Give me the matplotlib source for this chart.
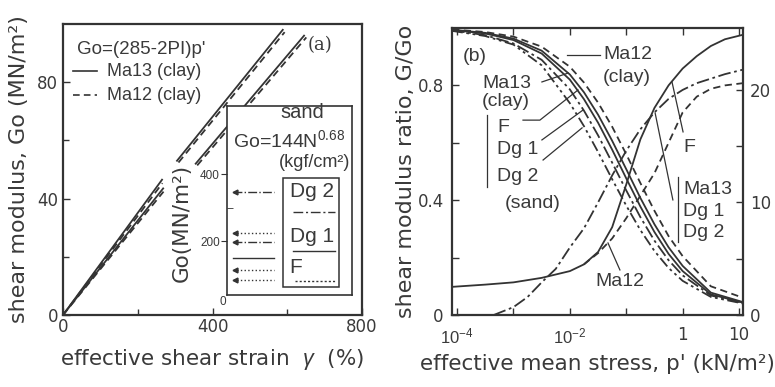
import numpy as np
import matplotlib
matplotlib.use('Agg')
import matplotlib.pyplot as plt
from matplotlib.patches import Rectangle

plt.rcParams['font.family'] = ['Liberation Sans', 'DejaVu Sans']
plt.rcParams['mathtext.fontset'] = 'custom'
plt.rcParams['mathtext.rm'] = 'Liberation Sans'
plt.rcParams['mathtext.it'] = 'Liberation Sans:italic'

INK = '#333333'
TXT = '#3a3a3a'
WIDE = ['DejaVu Sans']
nan = np.nan

# ---------------- panel (a) data ----------------
a_solid1_x = [0, 265, nan, 305, 588]
a_solid1_y = [0, 46.5, nan, 53, 98]
a_dash1_x = [0, 266, nan, 309, 593]
a_dash1_y = [0, 45.3, nan, 52.4, 97.2]
a_solid2_x = [0, 268, nan, 355, 645]
a_solid2_y = [0, 43.5, nan, 52, 96]
a_dash2_x = [0, 269, nan, 359, 651]
a_dash2_y = [0, 42.4, nan, 51.4, 95.4]

sand_go_levels = [346, 224, 197, 149, 113, 84]
sand_styles = ['dashdot', 'dotted', 'dashdot', 'solid', 'dotted', 'dotted']
sand_arrow = [True, True, True, False, True, True]

# ---------------- panel (b) data ----------------
lx_g = [-4.09, -3.5, -3.0, -2.5, -2.0, -1.75, -1.5, -1.25, -1.0, -0.75, -0.5, -0.25, 0.0, 0.5, 1.07]
g_ma12 = [0.995, 0.986, 0.970, 0.935, 0.865, 0.810, 0.740, 0.656, 0.560, 0.460, 0.363, 0.275, 0.205, 0.100, 0.060]
g_ma13 = [0.994, 0.983, 0.963, 0.921, 0.838, 0.776, 0.698, 0.607, 0.508, 0.408, 0.316, 0.236, 0.171, 0.078, 0.045]
g_f    = [0.993, 0.981, 0.958, 0.911, 0.820, 0.752, 0.670, 0.576, 0.476, 0.378, 0.289, 0.213, 0.153, 0.072, 0.043]
g_dg1  = [0.992, 0.975, 0.946, 0.889, 0.786, 0.712, 0.626, 0.531, 0.434, 0.341, 0.259, 0.191, 0.138, 0.068, 0.042]
g_dg2  = [0.990, 0.972, 0.942, 0.870, 0.738, 0.658, 0.568, 0.473, 0.381, 0.296, 0.223, 0.164, 0.119, 0.063, 0.040]

lx_h = [-4.09, -3.5, -3.0, -2.5, -2.0, -1.75, -1.5, -1.25, -1.0, -0.75, -0.5, -0.25, 0.0, 0.25, 0.5, 0.75, 1.07]
h_f = [2.5, 2.7, 2.9, 3.3, 3.9, 4.5, 5.6, 7.8, 11.6, 15.6, 18.4, 20.4, 21.9, 23.0, 23.9, 24.5, 24.9]
lx_h_dg = [-3.35, -3.0, -2.75, -2.5, -2.25, -2.0, -1.75, -1.5, -1.25, -1.0, -0.75, -0.5, -0.25, 0.0, 0.25, 0.5, 0.75, 1.07]
h_dg = [0.0, 0.7, 1.6, 2.9, 4.1, 6.0, 7.7, 10.0, 12.4, 14.6, 16.5, 18.0, 19.2, 20.0, 20.6, 21.0, 21.4, 21.8]
lx_h_ma12 = [-1.75, -1.5, -1.25, -1.0, -0.75, -0.5, -0.25, 0.0, 0.25, 0.5, 0.75, 1.07]
h_ma12 = [4.5, 5.5, 6.8, 8.6, 10.6, 12.6, 15.3, 18.0, 19.4, 20.1, 20.4, 20.6]

DASH = (0, (4, 2.5))
DASHDOT = (0, (7, 2, 1.5, 2))
DASHDOT2 = (0, (6, 2, 1.5, 2, 1.5, 2))
DOT = (0, (1.5, 1.5))

fig = plt.figure(figsize=(7.75, 3.87), dpi=100)
fig.patch.set_facecolor('white')

# ======================= panel (a) =======================
axa = fig.add_axes([63/775, 72/387, 299/775, 291/387])
lw = 1.3
axa.plot(a_solid1_x, a_solid1_y, color=INK, lw=lw)
axa.plot(a_dash1_x, a_dash1_y, color=INK, lw=lw, ls=DASH)
axa.plot(a_solid2_x, a_solid2_y, color=INK, lw=lw)
axa.plot(a_dash2_x, a_dash2_y, color=INK, lw=lw, ls=DASH)
axa.set_xlim(0, 800)
axa.set_ylim(0, 100)
axa.set_xticks([0, 400, 800])
axa.set_xticks([200, 600], minor=True)
axa.set_yticks([0, 40, 80])
axa.set_yticks([20, 60], minor=True)
axa.tick_params(which='both', direction='in', colors=INK, labelcolor=TXT, labelsize=12, width=1.0)
axa.tick_params(which='major', length=5)
axa.tick_params(which='minor', length=4)
axa.tick_params(axis='x', pad=2)
for lab in axa.get_xticklabels() + axa.get_yticklabels():
    lab.set_family(WIDE)
for s in axa.spines.values():
    s.set_linewidth(1.6)
    s.set_color(INK)
axa.set_xlabel('effective shear strain  $\\gamma$  (%)', fontsize=15.5, color=TXT, labelpad=8, family=WIDE)
axa.set_ylabel('shear modulus, Go (MN/m²)', fontsize=16, color=TXT, labelpad=6, family=WIDE)

axa.text(0.047, 0.911, "Go=(285-2PI)p'", transform=axa.transAxes, fontsize=13.5, color=TXT, va='center')
axa.plot([0.033, 0.114], [0.838, 0.838], transform=axa.transAxes, color=INK, lw=1.2)
axa.text(0.147, 0.838, 'Ma13 (clay)', transform=axa.transAxes, fontsize=13, color=TXT, va='center')
axa.plot([0.033, 0.114], [0.756, 0.756], transform=axa.transAxes, color=INK, lw=1.2, ls=DASH)
axa.text(0.147, 0.756, 'Ma12 (clay)', transform=axa.transAxes, fontsize=13, color=TXT, va='center')
axa.text(0.86, 0.928, '(a)', transform=axa.transAxes, fontsize=13, color=TXT, va='center', ha='center',
         family='DejaVu Serif')

# inset
axi = fig.add_axes([227/775, 92/387, 125/775, 189/387])
axi.set_xlim(0, 1)
axi.set_ylim(39, 603)
axi.set_xticks([])
axi.set_yticks([200, 400])
axi.set_yticks([300], minor=True)
axi.tick_params(which='major', direction='out', length=4, colors=INK, labelcolor=TXT, labelsize=8.5, pad=1)
axi.tick_params(which='minor', direction='in', length=4, colors=INK)
for s in axi.spines.values():
    s.set_linewidth(1.2)
    s.set_color(INK)
axi.text(-0.03, 18, '0', fontsize=8.5, color=TXT, ha='center', va='center', clip_on=False)
for lev, st, arr in zip(sand_go_levels, sand_styles, sand_arrow):
    axi.plot([0.05, 0.376], [lev, lev], color=INK, lw=1.0, ls=st)
    if arr:
        axi.plot([0.06], [lev], marker='<', ms=3.5, color=INK, mec=INK)
axi.text(0.6, 0.963, 'sand', transform=axi.transAxes, fontsize=14.5, color=TXT, ha='center', va='center')
axi.text(0.5, 0.82, 'Go=144N$^{0.68}$', transform=axi.transAxes, fontsize=14, color=TXT, ha='center', va='center')
axi.text(0.99, 0.70, '(kgf/cm²)', transform=axi.transAxes, fontsize=13, color=TXT, ha='right', va='center')
axi.add_patch(Rectangle((0.448, 0.042), 0.448, 0.577, transform=axi.transAxes, fill=False, ec=INK, lw=1.1))
axi.text(0.68, 0.545, 'Dg 2', transform=axi.transAxes, fontsize=15, color=TXT, ha='center', va='center')
axi.plot([0.53, 0.864], [0.44, 0.44], transform=axi.transAxes, color=INK, lw=1.0, ls=DASHDOT)
axi.text(0.68, 0.307, 'Dg 1', transform=axi.transAxes, fontsize=15, color=TXT, ha='center', va='center')
axi.plot([0.53, 0.864], [0.233, 0.233], transform=axi.transAxes, color=INK, lw=1.0)
axi.text(0.5, 0.143, 'F', transform=axi.transAxes, fontsize=15, color=TXT, ha='left', va='center')
axi.plot([0.544, 0.864], [0.074, 0.074], transform=axi.transAxes, color=INK, lw=1.0, ls=DOT)
fig.text(182/775, (387-223)/387, 'Go(MN/m²)', rotation=90, fontsize=15.5, color=TXT, ha='center', va='center',
         family=WIDE)

# ======================= panel (b) =======================
axb = fig.add_axes([452/775, 72/387, 291/775, 287/387])
axb.set_xscale('log')
xg = [10**v for v in lx_g]
axb.plot(xg, g_ma12, color=INK, lw=lw, ls=DASH)
axb.plot(xg, g_ma13, color=INK, lw=lw)
axb.plot(xg, g_f, color=INK, lw=lw)
axb.plot(xg, g_dg1, color=INK, lw=lw, ls=DASHDOT)
axb.plot(xg, g_dg2, color=INK, lw=lw, ls=DASHDOT2)
axb.set_xlim(10**-4.09, 10**1.07)
axb.set_ylim(0, 1.0)
axb.set_xticks([1e-4, 1e-3, 1e-2, 1e-1, 1, 10])
axb.set_xticklabels(['$10^{-4}$', '', '$10^{-2}$', '', '1', '10'])
axb.xaxis.set_minor_locator(matplotlib.ticker.NullLocator())
axb.set_yticks([0, 0.2, 0.4, 0.6, 0.8, 1.0])
axb.set_yticklabels(['0', '', '0.4', '', '0.8', ''])
axb.tick_params(which='both', direction='in', colors=INK, labelcolor=TXT, labelsize=12, length=5, width=1.0,
                top=True)
axb.tick_params(axis='x', pad=8)
axb.tick_params(axis='y', pad=6)
for lab in axb.get_yticklabels() + axb.get_xticklabels()[4:]:
    lab.set_family(WIDE)
for s in axb.spines.values():
    s.set_linewidth(1.6)
    s.set_color(INK)
axb.set_xlabel("effective mean stress, p' (kN/m²)", fontsize=15.5, color=TXT, labelpad=6, family=WIDE)
axb.set_ylabel('shear modulus ratio, G/Go', fontsize=16, color=TXT, labelpad=1, family=WIDE)

axh = axb.twinx()
axh.plot([10**v for v in lx_h], h_f, color=INK, lw=lw)
axh.plot([10**v for v in lx_h_dg], h_dg, color=INK, lw=lw, ls=DASHDOT)
axh.plot([10**v for v in lx_h_ma12], h_ma12, color=INK, lw=lw, ls=DASH)
axh.set_ylim(0, 25.5)
axh.set_yticks([0, 5, 10, 15, 20])
axh.set_yticklabels(['0', '', '10', '', '20'])
axh.tick_params(direction='in', colors=INK, labelcolor=TXT, labelsize=12, length=5, width=1.0, pad=5)
for lab in axh.get_yticklabels():
    lab.set_family(WIDE)
for s in axh.spines.values():
    s.set_visible(False)

T = axb.transAxes
kw = dict(transform=T, fontsize=14, color=TXT, va='center')
axb.text(0.079, 0.899, '(b)', ha='center', **kw)
axb.text(0.519, 0.906, 'Ma12', **kw)
axb.text(0.519, 0.826, '(clay)', **kw)
axb.text(0.103, 0.808, 'Ma13', **kw)
axb.text(0.103, 0.745, '(clay)', **kw)
axb.text(0.155, 0.652, 'F', **kw)
axb.text(0.155, 0.575, 'Dg 1', **kw)
axb.text(0.155, 0.481, 'Dg 2', **kw)
axb.text(0.278, 0.390, '(sand)', ha='center', **kw)
axb.text(0.794, 0.582, 'F', **kw)
axb.text(0.794, 0.436, 'Ma13', **kw)
axb.text(0.794, 0.359, 'Dg 1', **kw)
axb.text(0.794, 0.286, 'Dg 2', **kw)
axb.text(0.491, 0.115, 'Ma12', **kw)

lk = dict(transform=T, color=INK, lw=0.9)
axb.plot([0.395, 0.509], [0.906, 0.906], **lk)
axb.plot([0.309, 0.399], [0.812, 0.843], **lk)
axb.plot([0.244, 0.302, 0.433], [0.679, 0.679, 0.784], **lk)
axb.plot([0.309, 0.450], [0.610, 0.714], **lk)
axb.plot([0.313, 0.447], [0.540, 0.652], **lk)
axb.plot([0.120, 0.120], [0.697, 0.446], **lk)
axb.plot([0.756, 0.794], [0.812, 0.638], **lk)
axb.plot([0.777, 0.777], [0.481, 0.254], **lk)
axb.plot([0.698, 0.759], [0.704, 0.401], **lk)
axb.plot([0.577, 0.536], [0.157, 0.251], **lk)

fig.savefig('out.png', dpi=100, facecolor='white')
